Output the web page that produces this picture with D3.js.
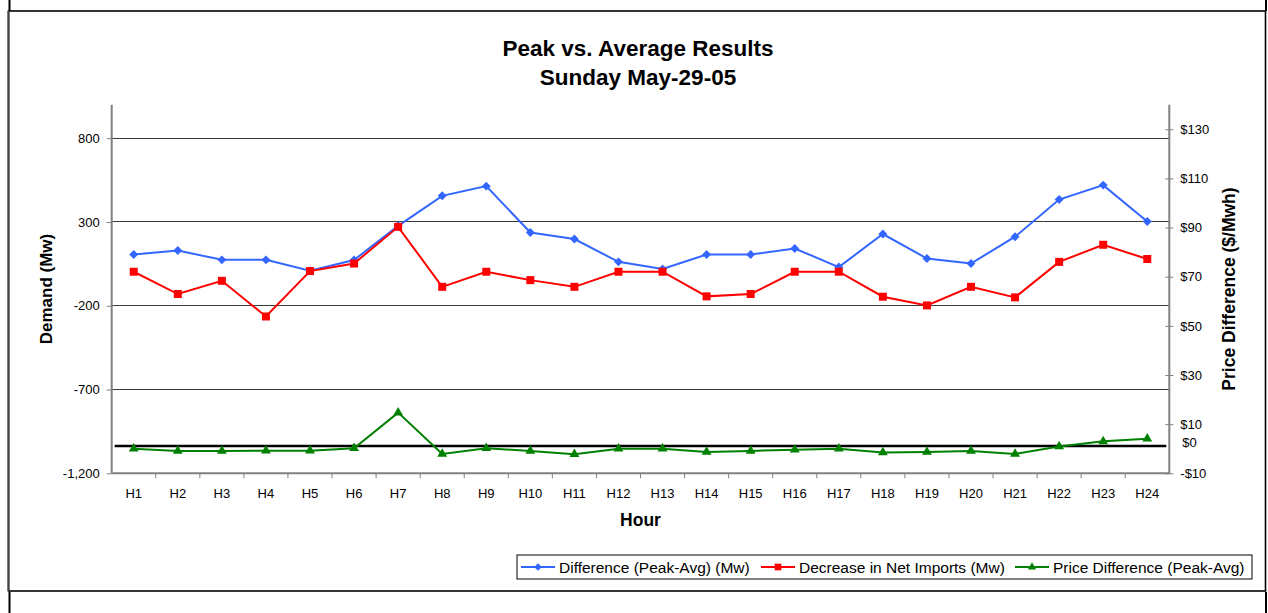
<!DOCTYPE html>
<html>
<head>
<meta charset="utf-8">
<script src="https://cdn.jsdelivr.net/npm/d3@7"></script>
<style>
  html, body { margin: 0; padding: 0; background: #fff; }
  svg { display: block; font-family: "Liberation Sans", Arial, sans-serif; }
</style>
</head>
<body>
<svg id="chart" width="1268" height="613"></svg>
<script>
const hours = ["H1","H2","H3","H4","H5","H6","H7","H8","H9","H10","H11","H12","H13","H14","H15","H16","H17","H18","H19","H20","H21","H22","H23","H24"];
const diffMw = [106,130,74,74,9,73,277,456,514,237,198,62,19,106,106,142,31,228,82,52,212,434,520,303];
const netImportsMw = [3,-130,-51,-264,7,52,271,-87,3,-47,-87,3,3,-144,-130,3,3,-146,-198,-87,-150,62,164,79];
const priceDiff = [0,-0.9,-0.9,-0.8,-0.8,0.2,14.7,-2.1,0.2,-0.9,-2.2,0,0,-1.3,-0.9,-0.4,0,-1.5,-1.3,-0.9,-2.1,0.9,3,4.1];
const leftTicks = [-1200,-700,-200,300,800];
const leftDomain = [-1200,1000];
const rightTicks = [-10,10,30,50,70,90,110,130];
const rightDomain = [-10,140];
const zeroRefValue = 1.1;
const titleLines = ["Peak vs. Average Results","Sunday May-29-05"];
const seriesNames = ["Difference (Peak-Avg) (Mw)","Decrease in Net Imports (Mw)","Price Difference (Peak-Avg)"];

const svg = d3.select("#chart");
const L = 111.7, R = 1169.3, T = 104.7, B = 473.3;
const FONT = "Liberation Sans, Arial, sans-serif";

const x = d3.scaleBand().domain(hours).range([L, R]);
const cx = h => x(h) + x.bandwidth() / 2;
const yL = d3.scaleLinear().domain(leftDomain).range([B, T]);
const yR = d3.scaleLinear().domain(rightDomain).range([B, T]);

// outer frames
svg.append("rect").attr("x", 0).attr("y", 0).attr("width", 1268).attr("height", 613).attr("fill", "#fff");
[[9.5,0,11],[1266,0,11],[9.5,592,613],[1266,592,613]].forEach(([lx,a,b]) =>
  svg.append("line").attr("x1", lx).attr("x2", lx).attr("y1", a).attr("y2", b).attr("stroke", "#000").attr("stroke-width", 2));
svg.append("rect").attr("x", 8.5).attr("y", 11).attr("width", 1257).attr("height", 580)
  .attr("fill", "none").attr("stroke", "#000").attr("stroke-width", 1.6);
svg.append("line").attr("x1", 8.5).attr("x2", 8.5).attr("y1", 11).attr("y2", 591).attr("stroke", "#444").attr("stroke-width", 2);

// title
svg.append("text").attr("x", 638).attr("y", 56).attr("text-anchor", "middle")
  .attr("font-size", 22.5).attr("font-weight", "bold").text(titleLines[0]);
svg.append("text").attr("x", 638).attr("y", 85).attr("text-anchor", "middle")
  .attr("font-size", 22.5).attr("font-weight", "bold").text(titleLines[1]);

// gridlines
svg.append("g").selectAll("line").data(leftTicks.filter(t => t > leftDomain[0])).join("line")
  .attr("x1", L).attr("x2", R).attr("y1", d => yL(d)).attr("y2", d => yL(d))
  .attr("stroke", "#3a3a3a").attr("stroke-width", 1).attr("shape-rendering", "crispEdges");

const fmtL = d => d3.format(",")(d).replace("\u2212", "-");
const fmtR = d => (d < 0 ? "-$" : "$") + Math.abs(d);

// left axis
const gL = svg.append("g").attr("transform", `translate(${L},0)`)
  .call(d3.axisLeft(yL).tickValues(leftTicks).tickSize(5).tickPadding(7).tickFormat(fmtL));
gL.select(".domain").attr("stroke", "#808080").attr("stroke-width", 2).attr("d", `M0,${T}V${B}`);
gL.selectAll(".tick line").attr("stroke", "#808080");
gL.selectAll(".tick text").attr("font-size", 13).attr("fill", "#000").attr("font-family", FONT);

// right axis
const gR = svg.append("g").attr("transform", `translate(${R},0)`)
  .call(d3.axisRight(yR).tickValues(rightTicks).tickSize(4).tickPadding(7).tickFormat(fmtR));
gR.select(".domain").attr("stroke", "#808080").attr("stroke-width", 2).attr("d", `M0,${T}V${B}`);
gR.selectAll(".tick line").attr("stroke", "#808080").attr("x1", -4).attr("x2", 4);
gR.selectAll(".tick text").attr("font-size", 13).attr("fill", "#000").attr("font-family", FONT);

// bottom axis
const gB = svg.append("g").attr("transform", `translate(0,${B})`)
  .call(d3.axisBottom(x).tickSize(0).tickPadding(15));
gB.select(".domain").attr("stroke", "#808080").attr("stroke-width", 2).attr("d", `M${L},0H${R}`);
gB.selectAll(".tick text").attr("font-size", 13).attr("fill", "#000").attr("font-family", FONT);
svg.append("g").selectAll("line").data(hours.slice(1)).join("line")
  .attr("x1", d => x(d)).attr("x2", d => x(d)).attr("y1", B).attr("y2", B + 5)
  .attr("stroke", "#808080").attr("stroke-width", 1);

// zero reference line
svg.append("line").attr("x1", L + 3).attr("x2", R - 3)
  .attr("y1", yR(zeroRefValue)).attr("y2", yR(zeroRefValue))
  .attr("stroke", "#000").attr("stroke-width", 2.6);
svg.append("text").attr("x", R + 13).attr("y", yR(zeroRefValue) + 1)
  .attr("font-size", 13).text("$0");

// axis titles
svg.append("text").attr("transform", `translate(51.5,${(T + B) / 2}) rotate(-90)`)
  .attr("text-anchor", "middle").attr("font-size", 17).attr("font-weight", "bold").text("Demand (Mw)");
svg.append("text").attr("transform", `translate(1235,${(T + B) / 2}) rotate(-90)`)
  .attr("text-anchor", "middle").attr("font-size", 17.5).attr("font-weight", "bold").text("Price Difference ($/Mwh)");
svg.append("text").attr("x", (L + R) / 2).attr("y", 526).attr("text-anchor", "middle")
  .attr("font-size", 17.5).attr("font-weight", "bold").text("Hour");

// series
const series = [
  { name: seriesNames[0], values: diffMw, y: yL, color: "#3366FF", shape: d3.symbolSquare, size: 40, rot: 45 },
  { name: seriesNames[1], values: netImportsMw, y: yL, color: "#FF0000", shape: d3.symbolSquare, size: 64, rot: 0 },
  { name: seriesNames[2], values: priceDiff, y: yR, color: "#008000", shape: d3.symbolTriangle, size: 42, rot: 0 }
];

series.forEach(s => {
  const pts = hours.map((h, i) => [cx(h), s.y(s.values[i])]);
  svg.append("path").attr("d", d3.line()(pts)).attr("fill", "none")
    .attr("stroke", s.color).attr("stroke-width", 2);
  svg.append("g").selectAll("path").data(pts).join("path")
    .attr("transform", d => `translate(${d[0]},${d[1]}) rotate(${s.rot})`)
    .attr("d", d3.symbol(s.shape, s.size)).attr("fill", s.color);
});

// legend
const lg = svg.append("g");
lg.append("rect").attr("x", 517).attr("y", 555).attr("width", 735).attr("height", 24)
  .attr("fill", "#fff").attr("stroke", "#000").attr("stroke-width", 1);
const legendX = [521, 761, 1015];
series.forEach((s, i) => {
  const gx = legendX[i];
  lg.append("line").attr("x1", gx).attr("x2", gx + 34).attr("y1", 567).attr("y2", 567)
    .attr("stroke", s.color).attr("stroke-width", 2);
  lg.append("path").attr("transform", `translate(${gx + 17},567) rotate(${s.rot})`)
    .attr("d", d3.symbol(s.shape, s.size * 0.7)).attr("fill", s.color);
  lg.append("text").attr("x", gx + 38).attr("y", 572.5).attr("font-size", 15.5).text(s.name);
});
</script>
</body>
</html>
